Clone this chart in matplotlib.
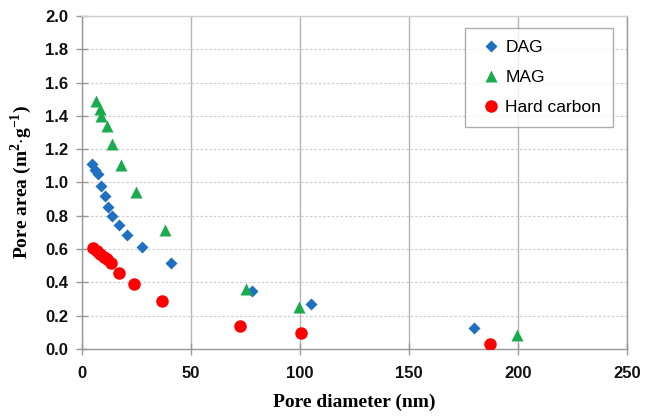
import matplotlib
matplotlib.use("Agg")
import matplotlib.pyplot as plt

# pore diameter (nm) / pore area (m2/g)
dag_x = [4.7, 6.0, 7.2, 8.7, 10.7, 11.8, 13.9, 16.8, 20.8, 27.7, 41.0, 78.0, 105.0, 179.7]
dag_y = [1.11, 1.075, 1.05, 0.98, 0.92, 0.855, 0.80, 0.745, 0.683, 0.613, 0.518, 0.346, 0.27, 0.128]

mag_x = [6.4, 8.3, 8.9, 11.3, 13.9, 17.9, 24.8, 37.9, 75.2, 99.5, 199.7]
mag_y = [1.49, 1.44, 1.40, 1.34, 1.23, 1.105, 0.945, 0.717, 0.36, 0.253, 0.082]

hc_x = [5.2, 7.0, 8.3, 10.0, 11.3, 13.2, 17.1, 23.9, 36.8, 72.5, 100.3, 187.3]
hc_y = [0.605, 0.59, 0.57, 0.55, 0.538, 0.515, 0.458, 0.388, 0.29, 0.14, 0.094, 0.03]

plt.rcParams['mathtext.fontset'] = 'custom'
plt.rcParams['mathtext.rm'] = 'Liberation Serif:bold'
plt.rcParams['mathtext.bf'] = 'Liberation Serif:bold'

fig = plt.figure(figsize=(6.45, 4.18), dpi=100)
ax = fig.add_axes([0.127, 0.165, 0.845, 0.797])

ax.plot(dag_x, dag_y, 'D', color='#1f70c1', ms=6.5, mec='none', label='DAG', zorder=3)
ax.plot(mag_x, mag_y, '^', color='#1bab4f', ms=8.5, mec='none', label='MAG', zorder=3)
ax.plot(hc_x, hc_y, 'o', color='#ff0000', ms=9, mec='none', label='Hard carbon', zorder=3)

ax.set_xlim(0, 250)
ax.set_ylim(0, 2.0)
ax.set_xticks(range(0, 251, 50))
ax.set_yticks([i * 0.2 for i in range(11)])
ax.set_yticklabels(['%.1f' % (i * 0.2) for i in range(11)])

ax.xaxis.grid(True, color='#b5b5b5', lw=1.0)
ax.yaxis.grid(True, color='#d0d0d0', lw=0.9, ls=(0, (2, 1.5)))
ax.set_axisbelow(True)

for s in ax.spines.values():
    s.set_color('#999999')
    s.set_linewidth(1.0)
ax.spines['top'].set_color('#d0d0d0')

ax.tick_params(axis='both', direction='inout', length=8, color='#999999', width=1.0,
               labelsize=12, colors='#999999', labelcolor='#111111')
for lab in ax.get_xticklabels() + ax.get_yticklabels():
    lab.set_family('Liberation Sans')
    lab.set_fontweight('bold')
ax.tick_params(axis='x', pad=8)
ax.tick_params(axis='y', pad=6)

ax.set_xlabel('Pore diameter (nm)', family='Liberation Serif', fontweight='bold',
              fontsize=14, labelpad=9)
ax.set_ylabel('Pore area (m$^{2}$$\\cdot$g$^{-1}$)', family='Liberation Serif',
              fontweight='bold', fontsize=14, labelpad=8)

leg = ax.legend(loc='upper right', bbox_to_anchor=(0.975, 0.965), frameon=True, fancybox=False,
                prop={'family': 'Liberation Sans', 'size': 12.5}, handletextpad=0.1,
                handlelength=1.5, labelspacing=0.85, borderpad=0.7, borderaxespad=0)
leg.get_frame().set_edgecolor('#999999')
leg.get_frame().set_linewidth(1.0)

fig.savefig('out.png', dpi=100)
